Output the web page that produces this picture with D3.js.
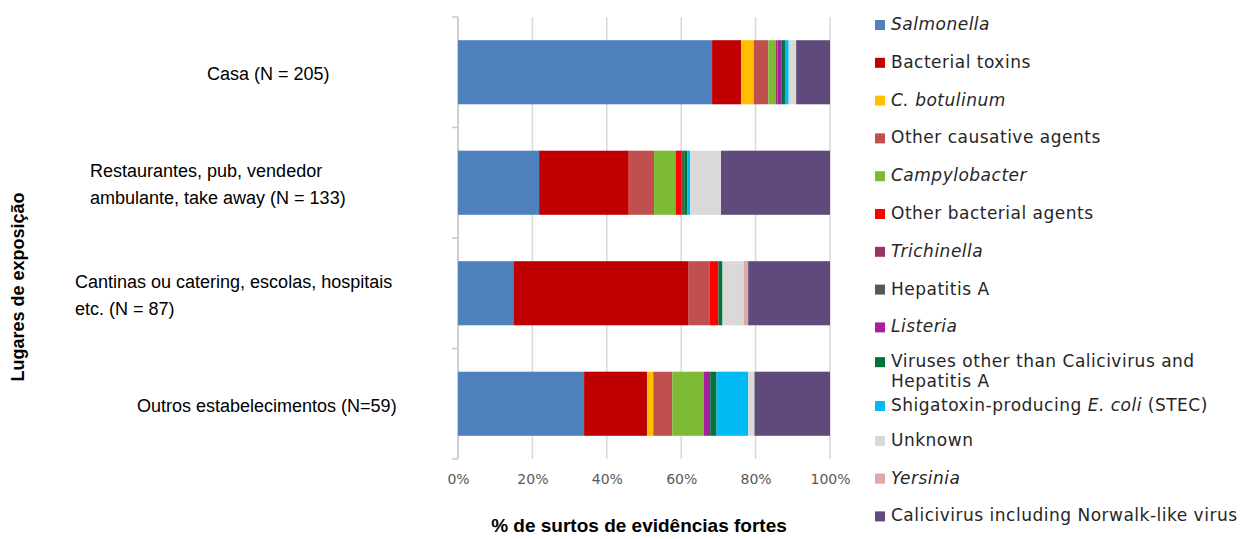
<!DOCTYPE html>
<html>
<head>
<meta charset="utf-8">
<script src="https://cdn.jsdelivr.net/npm/d3@7"></script>
<style>
  html, body { margin: 0; padding: 0; background: #ffffff; }
  svg { display: block; }
</style>
</head>
<body>
<svg id="chart" width="1240" height="539"></svg>
<script>
// Exposure settings (one bar each); each line of a label is drawn separately
const categories = [
  ["Casa (N = 205)"],
  ["Restaurantes, pub, vendedor", "ambulante, take away (N = 133)"],
  ["Cantinas ou catering, escolas, hospitais", "etc. (N = 87)"],
  ["Outros estabelecimentos (N=59)"]
];

// Causative agents in stacking order; italic parts marked per piece
const agents = [
  [{ t: "Salmonella", i: true }],
  [{ t: "Bacterial toxins" }],
  [{ t: "C. botulinum", i: true }],
  [{ t: "Other causative agents" }],
  [{ t: "Campylobacter", i: true }],
  [{ t: "Other bacterial agents" }],
  [{ t: "Trichinella", i: true }],
  [{ t: "Hepatitis A" }],
  [{ t: "Listeria", i: true }],
  [{ t: "Viruses other than Calicivirus and" }, { t: "Hepatitis A", br: true }],
  [{ t: "Shigatoxin-producing " }, { t: "E. coli", i: true }, { t: " (STEC)" }],
  [{ t: "Unknown" }],
  [{ t: "Yersinia", i: true }],
  [{ t: "Calicivirus including Norwalk-like virus" }]
];

// Share of strong-evidence outbreaks (%) per agent, for each setting in order
const salmonella      = [68.3, 21.8, 14.9, 33.9];
const bacterialToxins = [7.8, 24.1, 47.1, 16.9];
const cBotulinum      = [3.4, 0, 0, 1.7];
const otherCausative  = [3.9, 6.8, 5.7, 5.1];
const campylobacter   = [2.0, 5.8, 0, 8.5];
const otherBacterial  = [0, 1.5, 2.3, 0];
const trichinella     = [0.5, 0, 0, 0];
const hepatitisA      = [0, 0.8, 0, 0];
const listeria        = [1.0, 0, 0, 1.7];
const otherViruses    = [1.0, 0.8, 1.1, 1.7];
const stec            = [1.0, 0.8, 0, 8.5];
const unknown         = [2.0, 8.3, 5.7, 1.7];
const yersinia        = [0, 0, 1.2, 0];
const calicivirus     = [9.1, 29.3, 22.0, 20.3];

const seriesValues = [salmonella, bacterialToxins, cBotulinum, otherCausative,
  campylobacter, otherBacterial, trichinella, hepatitisA, listeria, otherViruses,
  stec, unknown, yersinia, calicivirus];

const xTicks = [0, 20, 40, 60, 80, 100];
const xTitle = "% de surtos de evidências fortes";
const yTitle = "Lugares de exposição";

const colors = ["#4F81BD", "#C00000", "#FFC000", "#C0504D", "#7CBB33", "#FF0000",
  "#993366", "#595959", "#A5209F", "#00743A", "#00BAF2", "#D9D9D9", "#DFA7A6", "#604A7B"];

// ---- layout ----
const svg = d3.select("#chart");
const plot = { left: 458, right: 830, top: 17, bottom: 459 };

const x = d3.scaleLinear().domain([0, 100]).range([plot.left, plot.right]);
const y = d3.scaleBand().domain(d3.range(categories.length))
  .range([plot.top, plot.bottom]).paddingInner(0.42).paddingOuter(0.21);

// rows for the stack: one object per setting, keyed by agent index
const rows = categories.map((c, ci) => {
  const r = {};
  seriesValues.forEach((vals, si) => { r[si] = vals[ci]; });
  return r;
});
const stack = d3.stack().keys(d3.range(agents.length))(rows);

// vertical gridlines
svg.append("g").selectAll("line").data(xTicks).join("line")
  .attr("x1", d => x(d)).attr("x2", d => x(d))
  .attr("y1", plot.top).attr("y2", plot.bottom)
  .attr("stroke", "#D9D9D9").attr("stroke-width", 1.5);

// category axis line with boundary ticks
svg.append("line")
  .attr("x1", plot.left).attr("x2", plot.left)
  .attr("y1", plot.top).attr("y2", plot.bottom)
  .attr("stroke", "#C8C8C8").attr("stroke-width", 1.5);
const bounds = d3.range(categories.length + 1).map(i => plot.top + i * y.step());
svg.append("g").selectAll("line").data(bounds).join("line")
  .attr("x1", plot.left - 6).attr("x2", plot.left)
  .attr("y1", d => d).attr("y2", d => d)
  .attr("stroke", "#C8C8C8").attr("stroke-width", 1.5);

// stacked bars
svg.append("g").selectAll("g").data(stack).join("g")
  .attr("fill", (d, i) => colors[i])
  .selectAll("rect").data(d => d).join("rect")
  .attr("x", d => x(d[0]))
  .attr("width", d => Math.max(0, x(d[1]) - x(d[0])))
  .attr("y", (d, i) => y(i))
  .attr("height", y.bandwidth());

// x tick labels
const xAxis = d3.axisBottom(x).tickValues(xTicks).tickFormat(d => d + "%").tickSize(0).tickPadding(0);
const gx = svg.append("g").attr("transform", `translate(0, 474)`).call(xAxis);
gx.select(".domain").remove();
gx.selectAll("text")
  .attr("font-family", "'DejaVu Sans', Verdana, sans-serif")
  .attr("font-size", 14).attr("fill", "#595959");

// category labels
const labelLeft = [207, 90, 75, 137];
const catFont = "'Liberation Sans', Arial, sans-serif";
categories.forEach((lines, ci) => {
  const cy = y(ci) + y.bandwidth() / 2 + 3;
  const lh = 27;
  lines.forEach((ln, li) => {
    svg.append("text")
      .attr("x", labelLeft[ci])
      .attr("y", cy + (li - (lines.length - 1) / 2) * lh)
      .attr("dominant-baseline", "middle")
      .attr("font-family", catFont).attr("font-size", 18)
      .attr("fill", "#000").text(ln);
  });
});

// axis titles
svg.append("text")
  .attr("x", 639).attr("y", 532).attr("text-anchor", "middle")
  .attr("font-family", catFont).attr("font-weight", "bold").attr("font-size", 19)
  .attr("fill", "#000").text(xTitle);
svg.append("text")
  .attr("transform", "translate(24, 287) rotate(-90)")
  .attr("text-anchor", "middle")
  .attr("font-family", catFont).attr("font-weight", "bold").attr("font-size", 18)
  .attr("fill", "#000").text(yTitle);

// legend
const legend = svg.append("g").attr("transform", "translate(875, 0)");
const legStep = 37.8, legTop = 25;
agents.forEach((parts, i) => {
  // the two-line entry sits a little higher so its second line clears the next one
  const twoLine = parts.some(p => p.br);
  const cy = legTop + i * legStep + (twoLine ? -3 : 0) + (i === 10 ? 3 : 0);
  legend.append("rect")
    .attr("x", 0).attr("y", cy - 5).attr("width", 10).attr("height", 10)
    .attr("fill", colors[i]);
  const t = legend.append("text")
    .attr("x", 16).attr("y", cy).attr("dominant-baseline", "middle")
    .attr("font-family", "'DejaVu Sans', Verdana, sans-serif")
    .attr("font-size", 17).attr("letter-spacing", 0.5).attr("fill", "#262626");
  parts.forEach(p => {
    const ts = t.append("tspan").text(p.t);
    if (p.i) ts.attr("font-style", "italic");
    if (p.br) ts.attr("x", 16).attr("dy", 20);
  });
});
</script>
</body>
</html>
